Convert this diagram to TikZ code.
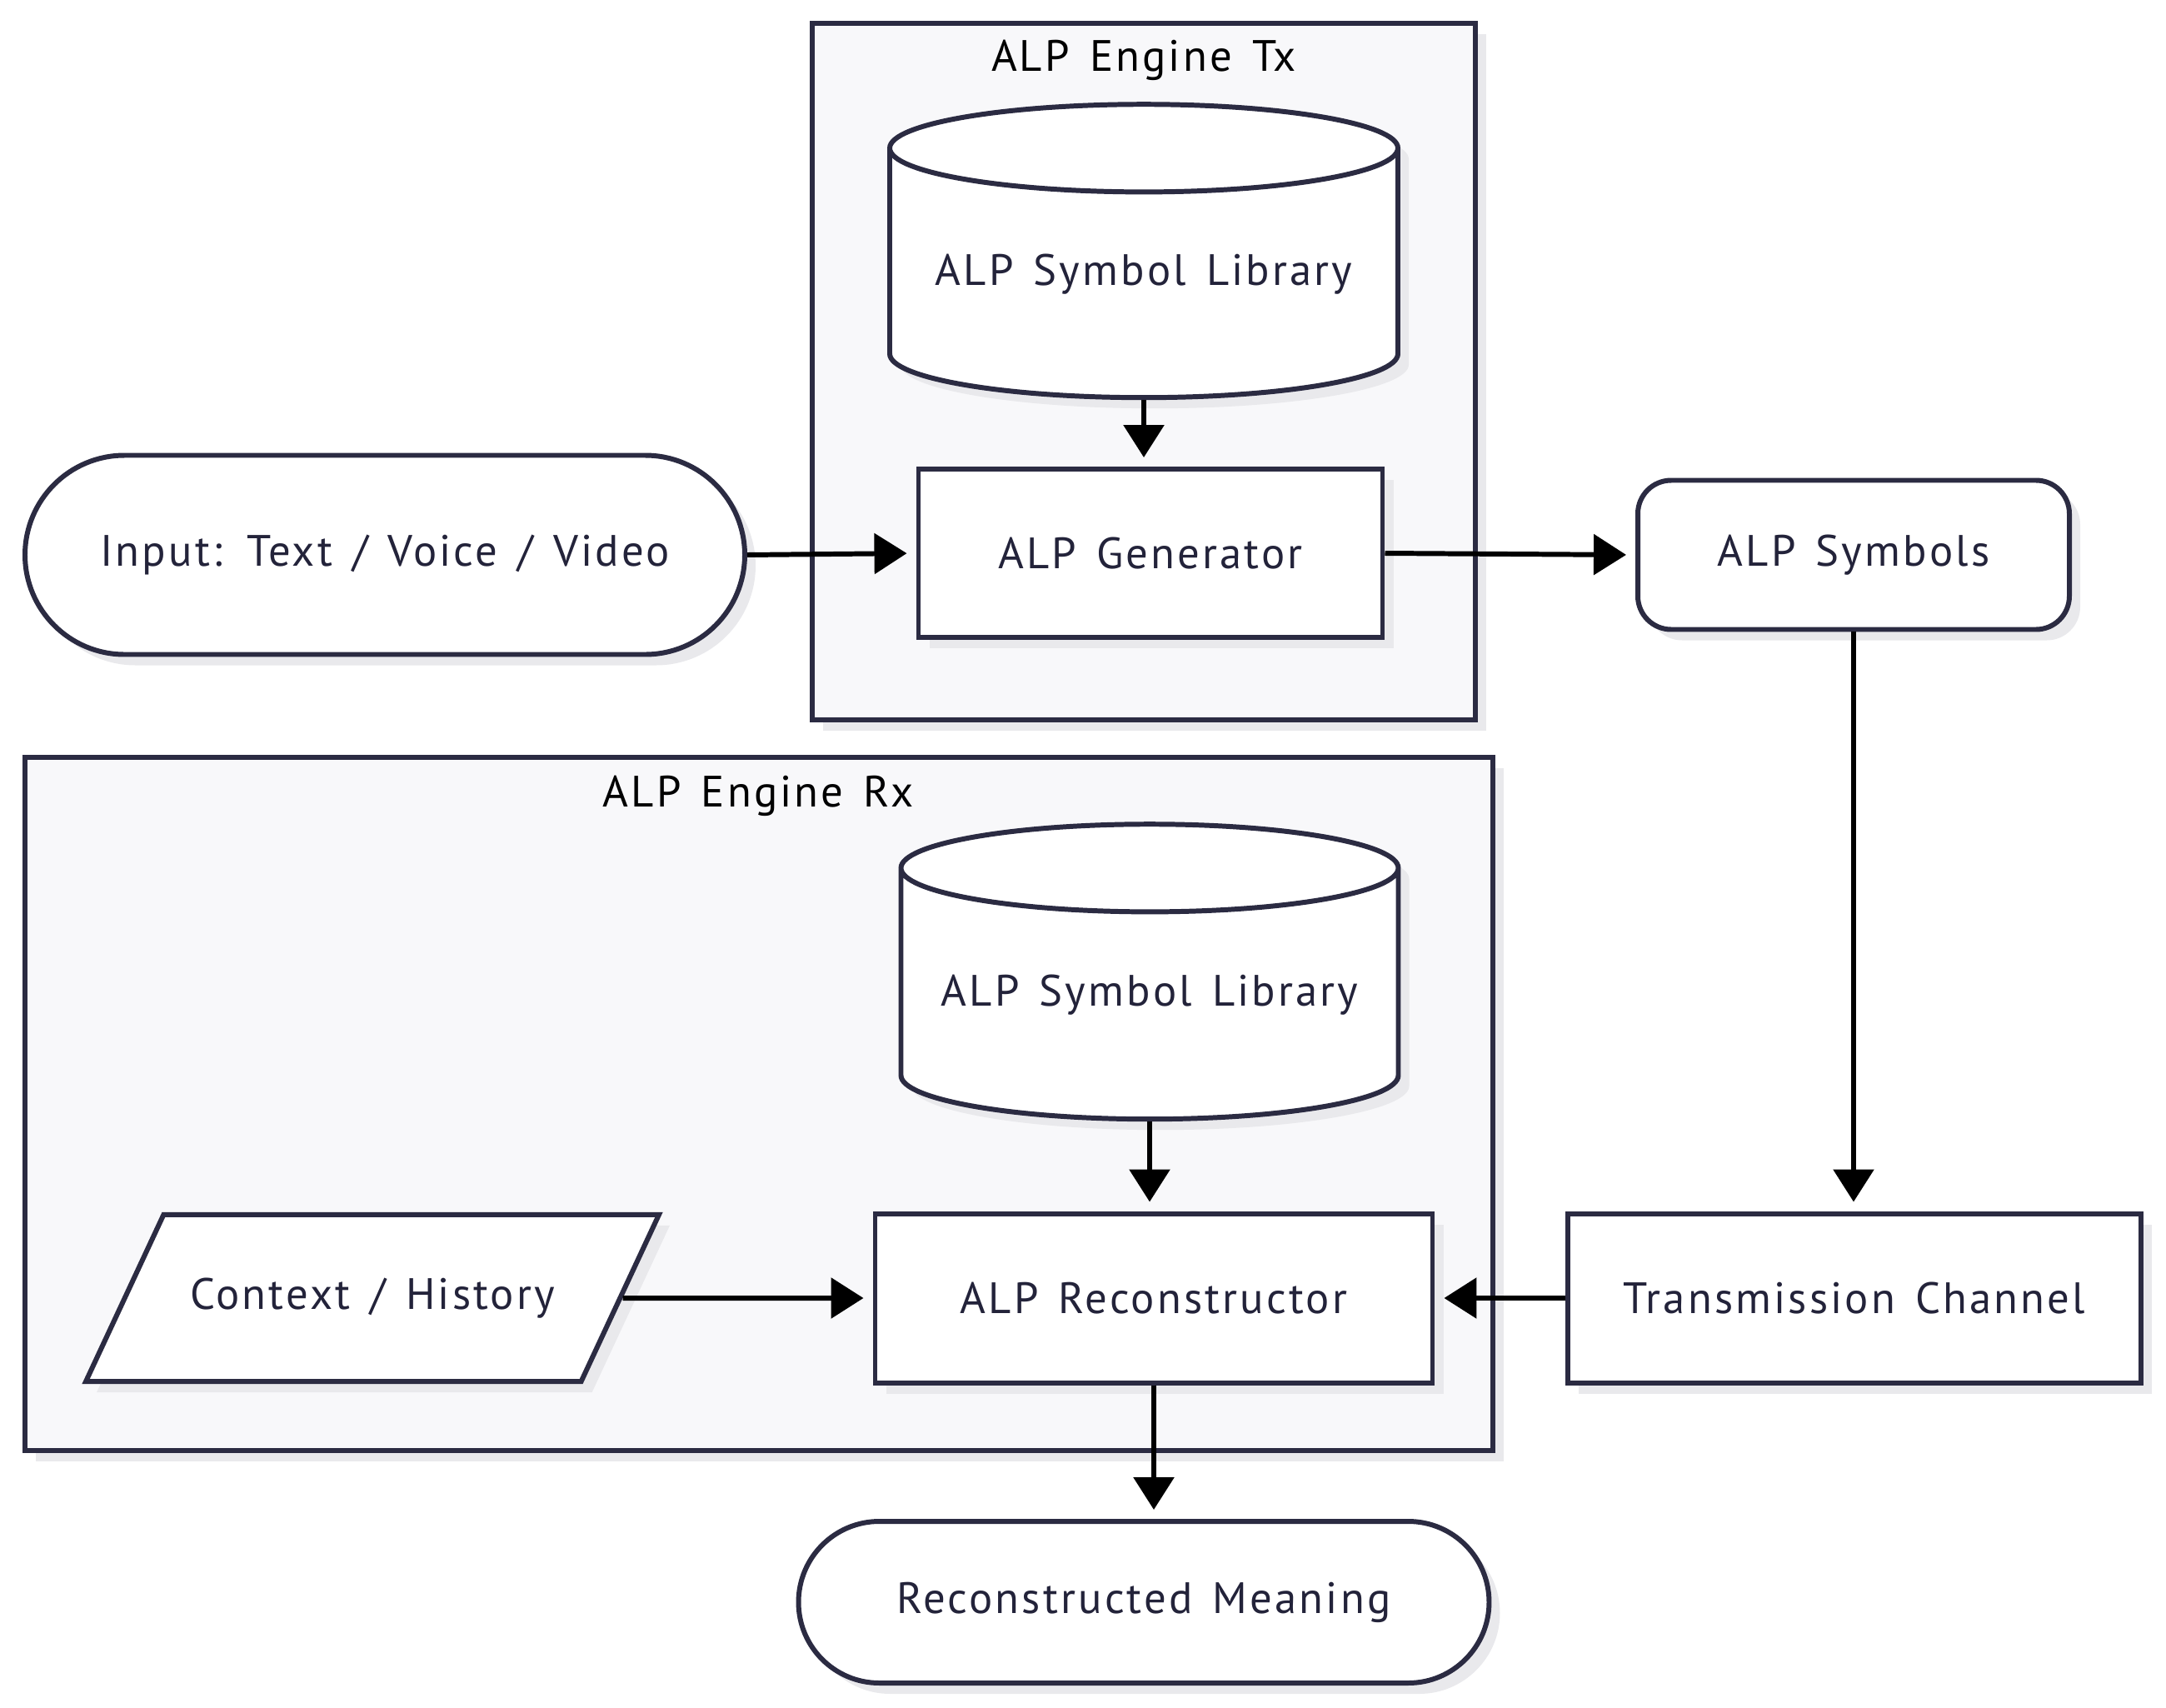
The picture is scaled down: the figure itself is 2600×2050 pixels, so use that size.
\documentclass[tikz,border=0pt]{standalone}
\usepackage{fontspec}
\setmainfont[LetterSpace=6, WordSpace=1.4]{PT Sans}
\usetikzlibrary{shapes.geometric, shapes.misc, shadows, arrows.meta}
\definecolor{edge}{HTML}{2B2B42}
\definecolor{ink}{HTML}{23233A}
\definecolor{groupfill}{HTML}{F8F8FA}
\definecolor{shade}{HTML}{E9E9EC}
\tikzset{
  box/.style={draw=edge, line width=1.7pt, fill=white, text=ink, inner sep=0pt,
    font=\fontsize{15}{18}\selectfont,
    drop shadow={shadow xshift=1.3mm, shadow yshift=-1.3mm, fill=shade, opacity=1}},
  group/.style={draw=edge, line width=1.7pt, fill=groupfill, inner sep=0pt,
    drop shadow={shadow xshift=1.3mm, shadow yshift=-1.3mm, fill=shade, opacity=1}},
  grouptitle/.style={text=black, font=\fontsize{15}{18}\selectfont},
  library/.style={box, cylinder, shape border rotate=90, aspect=0.21},
  link/.style={black, line width=1.7pt, -{Triangle[length=3.9mm, width=4.8mm]}, shorten >=1.1mm}
}
\begin{document}
\begin{tikzpicture}[x=0.1mm, y=-0.1mm]
  \useasboundingbox (0,0) rectangle (2600,2050);
  % Gruppen
  \node[group, minimum width=79.6mm, minimum height=83.6mm] (tx) at (1373,446) {};
  \node[grouptitle] (txtitle) at (1373,72) {ALP Engine Tx};
  \node[group, minimum width=176.2mm, minimum height=83.2mm] (rx) at (911,1325) {};
  \node[grouptitle] (rxtitle) at (910,955) {ALP Engine Rx};
  % Sender
  \node[library, minimum width=61mm, minimum height=35.2mm] (libtx) at (1373,329) {ALP Symbol Library};
  \node[box, minimum width=55.7mm, minimum height=20.2mm] (gen) at (1381,664) {ALP Generator};
  \node[box, rounded rectangle, minimum width=86.4mm, minimum height=23.9mm] (input) at (462,666) {Input: Text / Voice / Video};
  \node[box, rounded corners=4mm, minimum width=51.8mm, minimum height=17.9mm] (symbols) at (2225,666) {ALP Symbols};
  % Empfaenger
  \node[library, minimum width=59.7mm, minimum height=35.4mm] (librx) at (1380,1194) {ALP Symbol Library};
  \node[box, trapezium, trapezium left angle=65, trapezium right angle=115, trapezium stretches body=true,
    inner ysep=7.6mm, minimum width=68.8mm] (context) at (447,1558) {Context / History};
  \node[box, minimum width=66.9mm, minimum height=20.3mm] (recon) at (1385,1558) {ALP Reconstructor};
  \node[box, minimum width=68.8mm, minimum height=20.3mm] (channel) at (2226,1558) {Transmission Channel};
  \node[box, rounded rectangle, minimum width=82.9mm, minimum height=19.4mm] (meaning) at (1373,1923) {Reconstructed Meaning};
  % Pfeile
  \draw[link] (libtx.south) -- (libtx.south |- gen.north);
  \draw[link] (input.east) -- (gen.west);
  \draw[link] (gen.east) -- (symbols.west);
  \draw[link] (symbols.south) -- (symbols.south |- channel.north);
  \draw[link] (channel.west) -- (recon.east);
  \draw[link] (context.east) -- (recon.west);
  \draw[link] (librx.south) -- (librx.south |- recon.north);
  \draw[link] (recon.south) -- (recon.south |- meaning.north);
\end{tikzpicture}
\end{document}
